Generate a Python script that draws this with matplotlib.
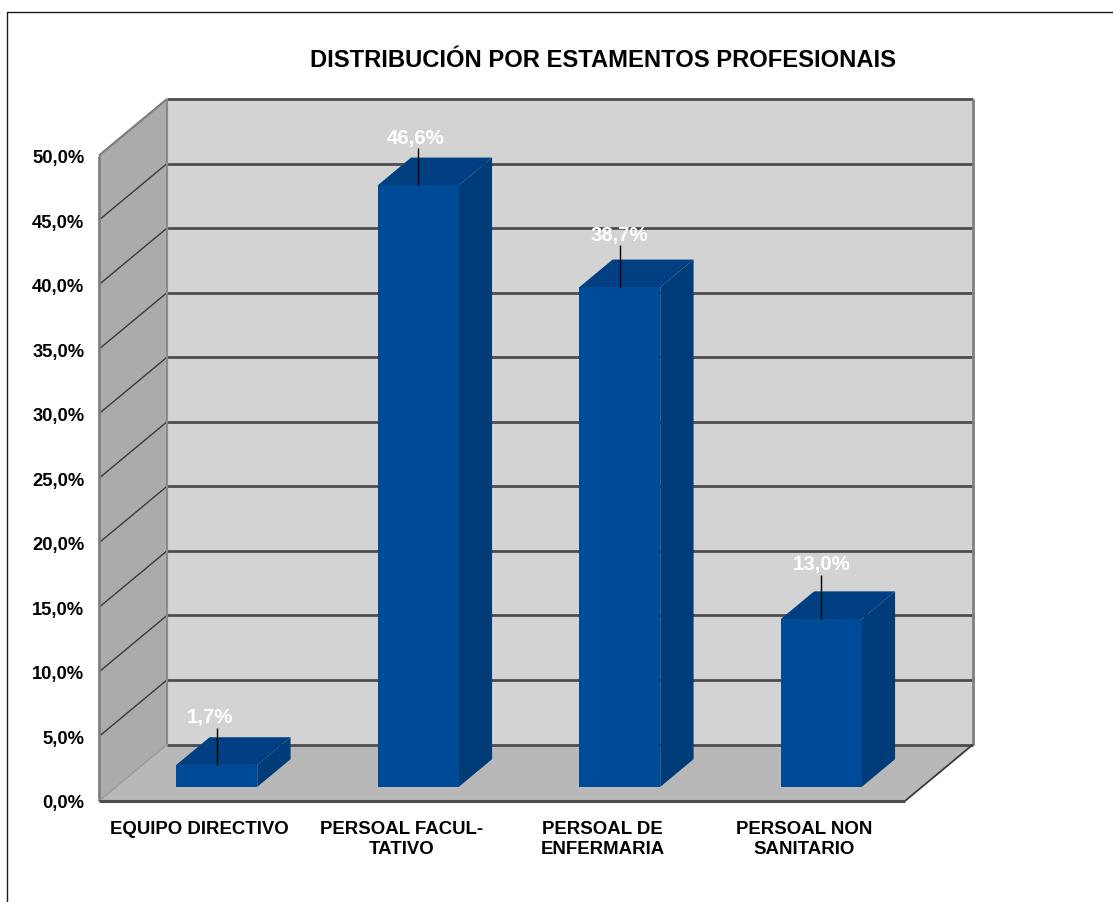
import matplotlib
matplotlib.use("Agg")
import matplotlib.pyplot as plt
from matplotlib.lines import Line2D
from matplotlib.patches import Polygon

plt.rcParams["font.family"] = ["Liberation Sans", "DejaVu Sans"]

categories = ["EQUIPO DIRECTIVO", "PERSOAL FACUL-\nTATIVO", "PERSOAL DE\nENFERMARIA", "PERSOAL NON\nSANITARIO"]
values = [1.7, 46.6, 38.7, 13.0]
value_labels = ["1,7%", "46,6%", "38,7%", "13,0%"]
y_ticks = [0, 5, 10, 15, 20, 25, 30, 35, 40, 45, 50]
y_labels = ["0,0%", "5,0%", "10,0%", "15,0%", "20,0%", "25,0%", "30,0%", "35,0%", "40,0%", "45,0%", "50,0%"]
title = "DISTRIBUCIÓN POR ESTAMENTOS PROFESIONAIS"

W, H = 1113, 903
fig = plt.figure(figsize=(W / 100, H / 100), dpi=100)
ax = fig.add_axes([99 / W, (H - 802) / H, 806 / W, 645.5 / H])
ax.set_xlim(0, 4)
ax.set_ylim(0, 50)
for s in ax.spines.values():
    s.set_visible(False)

# depth of the fake 3d box, in data units
DX = 68 / (806 / 4)
DY = 56.5 / (645.5 / 50)
BAR_W = 0.402

# leader lines and label nudges differ per bar in the original
leader_len = [2.87, 2.87, 3.26, 3.42]
label_nudge = [-0.032, -0.012, 0, 0]


def poly(pts, color, z, edge="none", lw=0):
    ax.add_patch(Polygon(pts, closed=True, facecolor=color, edgecolor=edge, linewidth=lw, zorder=z, clip_on=False))


def line(xs, ys, color, lw, z):
    ax.add_line(Line2D(xs, ys, color=color, linewidth=lw, zorder=z, clip_on=False, solid_capstyle="butt"))


# back wall, side wall, floor
poly([(DX, DY), (4 + DX, DY), (4 + DX, 50 + DY), (DX, 50 + DY)], "#d3d3d3", 1)
poly([(0, 0), (DX, DY), (DX, 50 + DY), (0, 50)], "#ababab", 1)
poly([(0, 0), (4, 0), (4 + DX, DY), (DX, DY)], "#b8b8b8", 1)

for t in y_ticks:
    line([DX, 4 + DX], [t + DY, t + DY], "#4d4d4d", 2.0, 2)
    if t > 0:
        line([0, DX], [t, t + DY], "#3a3a3a", 1.0, 2)

line([DX, DX], [DY, 50 + DY], "#8a8a8a", 1.5, 2)
line([4 + DX, 4 + DX], [DY, 50 + DY], "#808080", 2.0, 2)
line([0, 0], [0, 50], "#808080", 2.0, 2)
line([0, DX], [50, 50 + DY], "#808080", 1.5, 2)
line([0, DX], [0, DY], "#9a9a9a", 1.0, 2)
line([4, 4 + DX], [0, DY], "#3a3a3a", 1.3, 2)
line([0, 4], [0, 0], "#4d4d4d", 2.2, 2)

# bars
for i, v in enumerate(values):
    x0 = i + 0.5 - BAR_W / 2 + 0.25 * DX
    x1 = x0 + BAR_W
    y0 = 0.25 * DY
    y1 = y0 + v
    bx = 0.49 * DX
    by = 0.49 * DY
    poly([(x1, y0), (x1 + bx, y0 + by), (x1 + bx, y1 + by), (x1, y1)], "#003c77", 3)
    poly([(x0, y1), (x1, y1), (x1 + bx, y1 + by), (x0 + bx, y1 + by)], "#004082", 3)
    poly([(x0, y0), (x1, y0), (x1, y1), (x0, y1)], "#004b97", 4)
    xm = (x0 + x1) / 2
    line([xm, xm], [y1, y1 + leader_len[i]], "black", 1.0, 6)
    ax.text(xm + label_nudge[i], y1 + leader_len[i] + 0.85, value_labels[i], color="white", fontsize=14.7,
            fontweight="bold", ha="center", va="center", zorder=7)

ax.set_xticks([i + 0.5 for i in range(4)])
ax.set_xticklabels(categories, fontsize=13.4, fontweight="bold", linespacing=1.2)
ax.set_yticks(y_ticks)
ax.set_yticklabels(y_labels, fontsize=13.2, fontweight="bold")
ax.tick_params(axis="x", length=0, pad=14)
ax.tick_params(axis="y", length=0, pad=10.5)

fig.text(602.5 / W, 1 - 60.5 / H, title, fontsize=17.15, fontweight="bold", ha="center", va="center")

# outer frame, only top and left show
fig.add_artist(Line2D([7 / W, 7 / W, 1], [0, 1 - 13 / H, 1 - 13 / H], color="#1a1a1a", linewidth=1.0))

fig.savefig("out.png", dpi=100)
